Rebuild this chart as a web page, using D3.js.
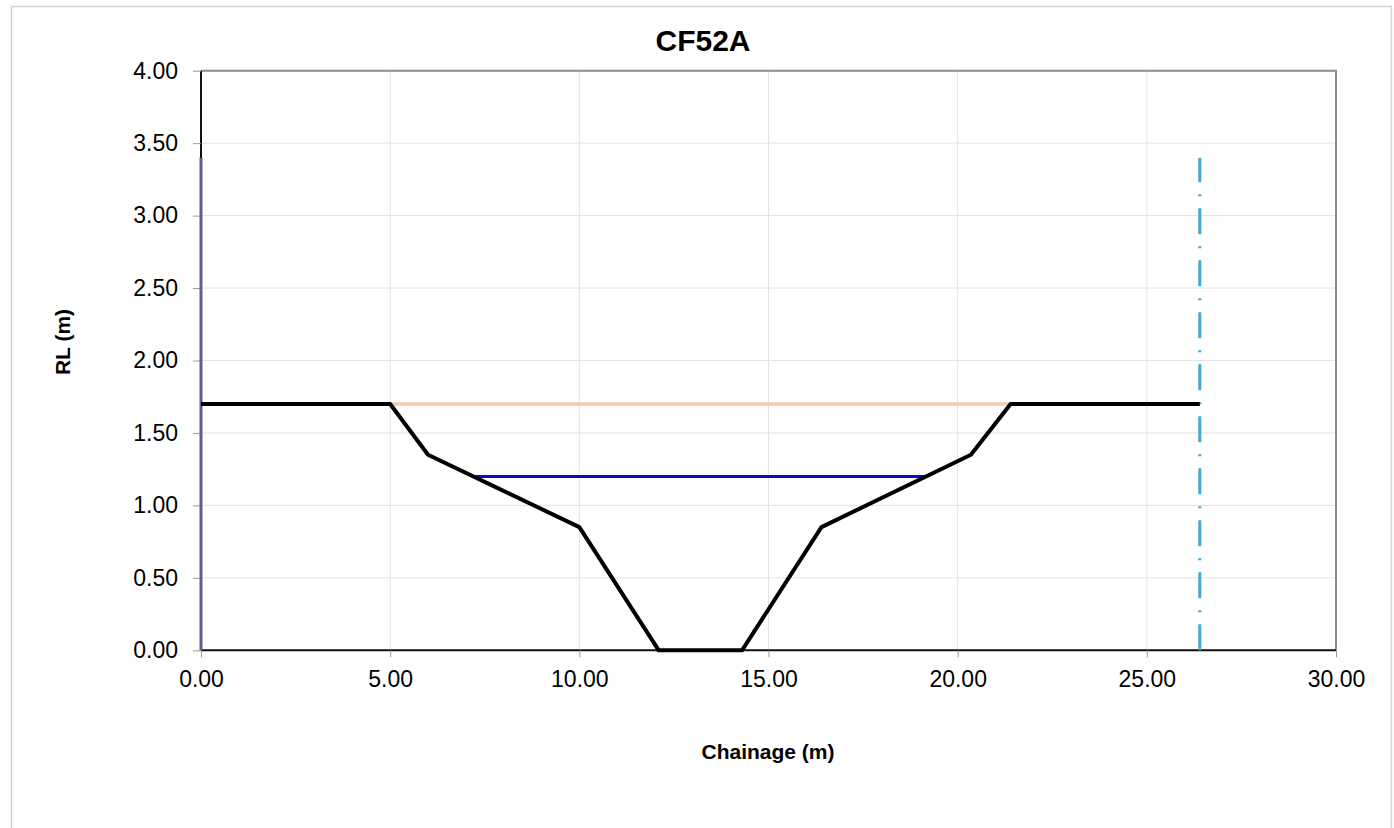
<!DOCTYPE html>
<html>
<head>
<meta charset="utf-8">
<script src="https://cdn.jsdelivr.net/npm/d3@7"></script>
<style>
  body { margin: 0; background: #fff; }
  svg text { font-family: "Liberation Sans", Arial, sans-serif; fill: #000; }
</style>
</head>
<body>
<div id="chart"></div>
<script>
// chart values
const title = "CF52A";
const xTicks = [0, 5, 10, 15, 20, 25, 30];
const yTicks = [0, 0.5, 1, 1.5, 2, 2.5, 3, 3.5, 4];

// ground profile
const groundX = [0, 5.0, 6.0, 10.0, 12.1, 14.3, 16.4, 20.35, 21.4, 26.4];
const groundY = [1.70, 1.70, 1.35, 0.85, 0.00, 0.00, 0.85, 1.35, 1.70, 1.70];

// bank level and water level
const bankX = [5.0, 21.4];
const bankY = [1.70, 1.70];
const waterX = [7.25, 19.15];
const waterY = [1.20, 1.20];

// boundaries
const leftBoundX = [0, 0];
const leftBoundY = [0, 3.40];
const rightBoundX = [26.4, 26.4];
const rightBoundY = [0, 3.40];

const width = 1394, height = 828;

const svg = d3.select("#chart")
  .append("svg")
  .attr("width", width)
  .attr("height", height);

// outer chart border
svg.append("rect")
  .attr("x", 11.5).attr("y", 6.5)
  .attr("width", 1380).attr("height", 840)
  .attr("fill", "none")
  .attr("stroke", "#d4d4d4")
  .attr("stroke-width", 1.5);

const xScale = d3.scaleLinear().domain([0, 30]).range([201, 1336]);
const yScale = d3.scaleLinear().domain([0, 4]).range([650.3, 70.7]);

// gridlines
svg.append("g")
  .selectAll("line.vg")
  .data(xTicks)
  .join("line")
  .attr("x1", d => xScale(d)).attr("x2", d => xScale(d))
  .attr("y1", yScale(0)).attr("y2", yScale(4))
  .attr("stroke", "#e2e2e2").attr("stroke-width", 1);

svg.append("g")
  .selectAll("line.hg")
  .data(yTicks)
  .join("line")
  .attr("x1", xScale(0)).attr("x2", xScale(30))
  .attr("y1", d => yScale(d)).attr("y2", d => yScale(d))
  .attr("stroke", "#e2e2e2").attr("stroke-width", 1);

// frame top/right
svg.append("path")
  .attr("d", `M${xScale(0)},${yScale(4)}H${xScale(30)}V${yScale(0)}`)
  .attr("fill", "none")
  .attr("stroke", "#8a8a8a")
  .attr("stroke-width", 2);

// axes
const xAxis = d3.axisBottom(xScale)
  .tickValues(xTicks)
  .tickFormat(d3.format(".2f"))
  .tickSize(7)
  .tickPadding(13);
const yAxis = d3.axisLeft(yScale)
  .tickValues(yTicks)
  .tickFormat(d3.format(".2f"))
  .tickSize(8)
  .tickPadding(15);

const gx = svg.append("g")
  .attr("transform", `translate(0,${yScale(0)})`)
  .call(xAxis);
const gy = svg.append("g")
  .attr("transform", `translate(${xScale(0)},0)`)
  .call(yAxis);

[gx, gy].forEach(g => {
  g.select(".domain").attr("stroke", "#111").attr("stroke-width", 2);
  g.selectAll(".tick line").attr("stroke", "#9a9a9a").attr("stroke-width", 1);
  g.selectAll(".tick text")
    .attr("font-size", 23)
    .attr("font-family", "Liberation Sans, Arial, sans-serif")
    .attr("fill", "#111");
});
gx.select(".domain").attr("d", `M${xScale(0)},0H${xScale(30)}`);
gy.select(".domain").attr("d", `M0,${yScale(0)}V${yScale(4)}`);

// lines
const line = d3.line().x(d => xScale(d[0])).y(d => yScale(d[1]));
const pts = (xs, ys) => xs.map((x, i) => [x, ys[i]]);

svg.append("path")
  .datum(pts(leftBoundX, leftBoundY))
  .attr("d", line)
  .attr("fill", "none")
  .attr("stroke", "#675a8f")
  .attr("stroke-width", 3);

svg.append("path")
  .datum(pts(rightBoundX, rightBoundY))
  .attr("d", line)
  .attr("fill", "none")
  .attr("stroke", "#45a6d2")
  .attr("stroke-width", 3)
  .attr("stroke-dasharray", "26,12,2,12");

svg.append("path")
  .datum(pts(bankX, bankY))
  .attr("d", line)
  .attr("fill", "none")
  .attr("stroke", "#f7cbaa")
  .attr("stroke-width", 3.5);

svg.append("path")
  .datum(pts(waterX, waterY))
  .attr("d", line)
  .attr("fill", "none")
  .attr("stroke", "#0a0ac8")
  .attr("stroke-width", 3);

svg.append("path")
  .datum(pts(groundX, groundY))
  .attr("d", line)
  .attr("fill", "none")
  .attr("stroke", "#000")
  .attr("stroke-width", 4)
  .attr("stroke-linejoin", "round");

// titles
svg.append("text")
  .attr("x", 703).attr("y", 51)
  .attr("text-anchor", "middle")
  .attr("font-size", 30)
  .attr("font-weight", "bold")
  .text(title);

svg.append("text")
  .attr("x", 768).attr("y", 759)
  .attr("text-anchor", "middle")
  .attr("font-size", 21)
  .attr("font-weight", "bold")
  .text("Chainage (m)");

svg.append("text")
  .attr("transform", "translate(70,342) rotate(-90)")
  .attr("text-anchor", "middle")
  .attr("font-size", 21)
  .attr("font-weight", "bold")
  .text("RL (m)");
</script>
</body>
</html>
